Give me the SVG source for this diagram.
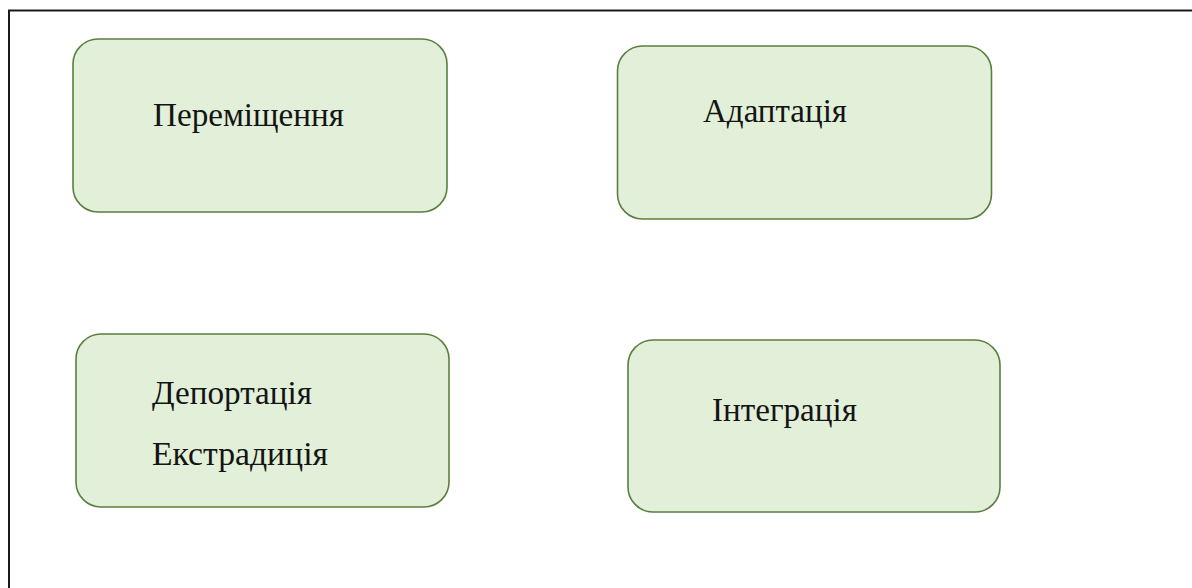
<svg xmlns="http://www.w3.org/2000/svg" width="1192" height="588" viewBox="0 0 1192 588">
<style>
.box{fill:#e2efd9;stroke:#5b7f3f;stroke-width:1.6}
.lbl{font-family:"Liberation Serif","Times New Roman",serif;font-size:33px;fill:#141414}
.frame{fill:none;stroke:#1a1a1a;stroke-width:2}
</style>
<rect width="1192" height="588" fill="#ffffff"/>
<path class="frame" d="M9,588 V10.5 H1192"/>
<g id="connectors"></g>
<g id="node-peremishchennia">
<rect class="box" x="73" y="39" width="374" height="173" rx="25" ry="25"/>
<text class="lbl" x="153" y="126" textLength="191" lengthAdjust="spacingAndGlyphs">Переміщення</text>
</g>
<g id="node-adaptatsiia">
<rect class="box" x="617.5" y="46" width="374" height="173" rx="25" ry="25"/>
<text class="lbl" x="703" y="122" textLength="144" lengthAdjust="spacingAndGlyphs">Адаптація</text>
</g>
<g id="node-deportatsiia">
<rect class="box" x="76" y="334" width="373" height="173" rx="25" ry="25"/>
<text class="lbl" x="152" y="404" textLength="160" lengthAdjust="spacingAndGlyphs">Депортація</text>
<text class="lbl" x="152" y="465" textLength="176" lengthAdjust="spacingAndGlyphs">Екстрадиція</text>
</g>
<g id="node-intehratsiia">
<rect class="box" x="628" y="340" width="372" height="172" rx="25" ry="25"/>
<text class="lbl" x="712" y="421" textLength="145" lengthAdjust="spacingAndGlyphs">Інтеграція</text>
</g>
</svg>
